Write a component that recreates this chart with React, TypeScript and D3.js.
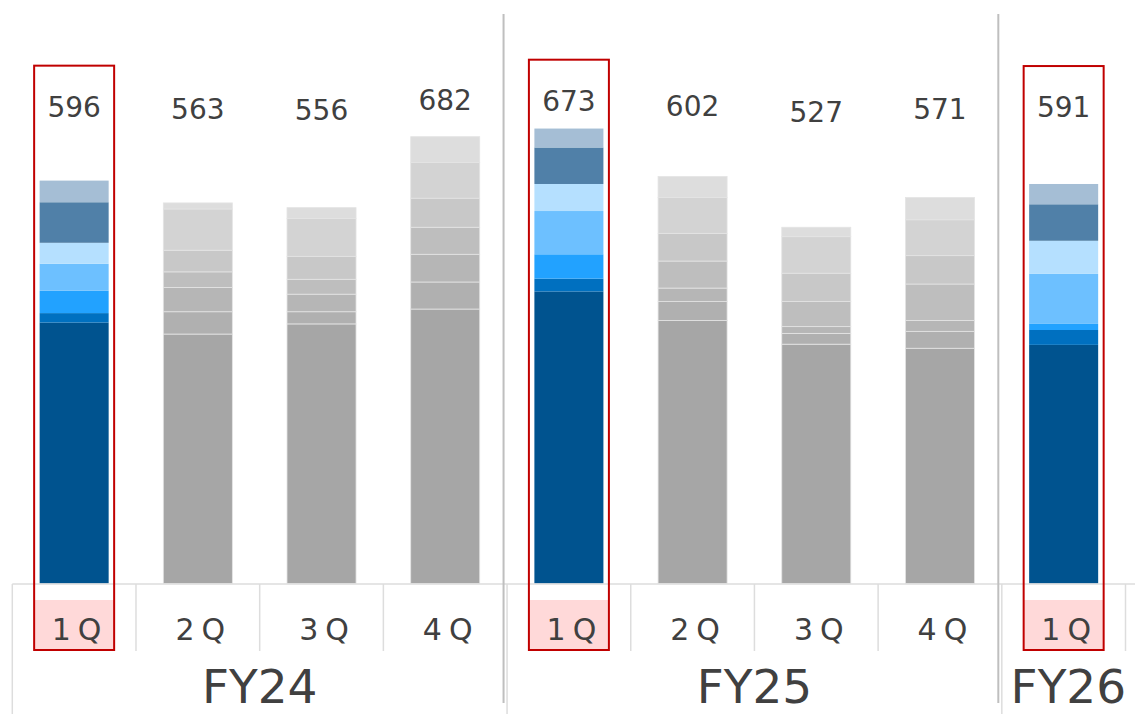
import React from 'react';
import * as d3 from 'd3';

// fiscal periods
const fiscalYears = ['FY24', 'FY25', 'FY26'];
const quarterCounts = [4, 4, 1];
const quarterNames = ['1Q', '2Q', '3Q', '4Q'];

// stacked segments, bottom to top, one value per bar
const seg1 = [386, 369, 384, 406, 432, 389, 354, 348, 353];
const seg2 = [14, 33, 18, 40, 19, 28, 16, 25, 22];
const seg3 = [33, 36, 26, 41, 36, 20, 10, 16, 9];
const seg4 = [40, 23, 22, 40, 64, 40, 37, 54, 74];
const seg5 = [31, 32, 34, 43, 40, 41, 42, 42, 49];
const seg6 = [60, 61, 56, 53, 54, 53, 54, 53, 54];
const seg7 = [32, 9, 16, 38, 28, 31, 14, 33, 30];
const totals = [596, 563, 556, 682, 673, 602, 527, 571, 591];

const blues = ['#00538F', '#0070C0', '#22A2FF', '#6DC0FF', '#B5E0FF', '#5080A8', '#A5BED5'];
const greys = ['#A6A6A6', '#B0B0B0', '#B6B6B6', '#BEBEBE', '#C8C8C8', '#D3D3D3', '#DDDDDD'];

const W = 1135;
const H = 714;
const base = 583.5;
const textColor = '#404040';
const font = '"DejaVu Sans", Verdana, sans-serif';

const App: React.FC = () => {
  const cats: { key: string; fy: string; q: string }[] = [];
  fiscalYears.forEach((fy, i) => {
    for (let q = 0; q < quarterCounts[i]; q++) {
      cats.push({ key: `${fy}-${quarterNames[q]}`, fy, q: quarterNames[q] });
    }
  });

  const rows = cats.map((c, i) => ({
    key: c.key,
    s1: seg1[i], s2: seg2[i], s3: seg3[i], s4: seg4[i], s5: seg5[i], s6: seg6[i], s7: seg7[i],
  }));
  const keys = ['s1', 's2', 's3', 's4', 's5', 's6', 's7'];
  const series = d3.stack<any>().keys(keys)(rows);

  const x = d3.scaleBand().domain(cats.map((c) => c.key)).range([12.3, 1125.5]).padding(0);
  const bw = x.bandwidth();
  const barW = bw * 0.558;
  const y = d3.scaleLinear().domain([0, 700]).range([base, base - 700 * 0.676]);
  const labelY = d3.scaleLinear().domain([527, 682]).range([122, 110]);

  const isHi = (i: number) => cats[i].q === '1Q';

  // group edges
  const groupEdges: number[] = [];
  let idx = 0;
  fiscalYears.forEach((fy, i) => {
    groupEdges.push(x(cats[idx].key)!);
    idx += quarterCounts[i];
  });
  groupEdges.push(x(cats[cats.length - 1].key)! + bw);

  return (
    <svg width={W} height={H} style={{ position: 'absolute', left: 0, top: 0, background: '#fff' }}>
      {/* bars */}
      {series.map((s, si) =>
        s.map((d, i) => {
          const hi = isHi(i);
          const bx = x(cats[i].key)! + (bw - barW) / 2;
          return (
            <rect
              key={`${si}-${i}`}
              x={bx}
              y={y(d[1])}
              width={barW}
              height={Math.max(0, y(d[0]) - y(d[1]))}
              fill={hi ? blues[si] : greys[si]}
              stroke={hi ? 'none' : '#E4E4E4'}
              strokeWidth={hi ? 0 : 0.8}
            />
          );
        })
      )}

      {/* axis lines */}
      <line x1={12.3} x2={W} y1={584} y2={584} stroke="#DDDDDD" strokeWidth={1.5} />
      {cats.map((c, i) => {
        const ex = x(c.key)!;
        const isEdge = groupEdges.some((g) => Math.abs(g - ex) < 0.5);
        return (
          <line key={`t${i}`} x1={ex} x2={ex} y1={584} y2={isEdge ? H : 651} stroke="#DDDDDD" strokeWidth={1.5} />
        );
      })}
      <line x1={1125.5} x2={1125.5} y1={584} y2={651} stroke="#DDDDDD" strokeWidth={1.5} />

      {/* fiscal year dividers */}
      {groupEdges.slice(1, -1).map((g, i) => (
        <line key={`g${i}`} x1={g - 3.5} x2={g - 3.5} y1={14} y2={703} stroke="#BFBFBF" strokeWidth={2} />
      ))}

      {/* highlight boxes for 1Q */}
      {cats.map((c, i) => {
        if (!isHi(i)) return null;
        const cx = x(c.key)! + bw / 2;
        const top = labelY(totals[i]) - 51;
        return (
          <g key={`h${i}`}>
            <rect x={cx - 40} y={600} width={80} height={50} fill="#FFD9D9" />
            <rect x={cx - 40} y={top} width={80} height={650 - top} fill="none" stroke="#C00000" strokeWidth={2} />
          </g>
        );
      })}

      {/* total labels */}
      {cats.map((c, i) => (
        <text
          key={`v${i}`}
          x={x(c.key)! + bw / 2}
          y={labelY(totals[i])}
          textAnchor="middle"
          fontFamily={font}
          fontSize={28}
          fill={textColor}
        >
          {totals[i]}
        </text>
      ))}

      {/* quarter labels */}
      {cats.map((c, i) => (
        <text
          key={`q${i}`}
          x={x(c.key)! + bw / 2 + 6}
          y={640}
          textAnchor="middle"
          fontFamily={font}
          fontSize={30}
          letterSpacing={7}
          fill={textColor}
        >
          {c.q}
        </text>
      ))}

      {/* fiscal year labels */}
      {fiscalYears.map((fy, i) => {
        const right = i === fiscalYears.length - 1 ? W : groupEdges[i + 1];
        return (
          <text
            key={fy}
            x={(groupEdges[i] + right) / 2}
            y={703}
            textAnchor="middle"
            fontFamily={font}
            fontSize={47}
            fill={textColor}
          >
            {fy}
          </text>
        );
      })}
    </svg>
  );
};

export default App;
